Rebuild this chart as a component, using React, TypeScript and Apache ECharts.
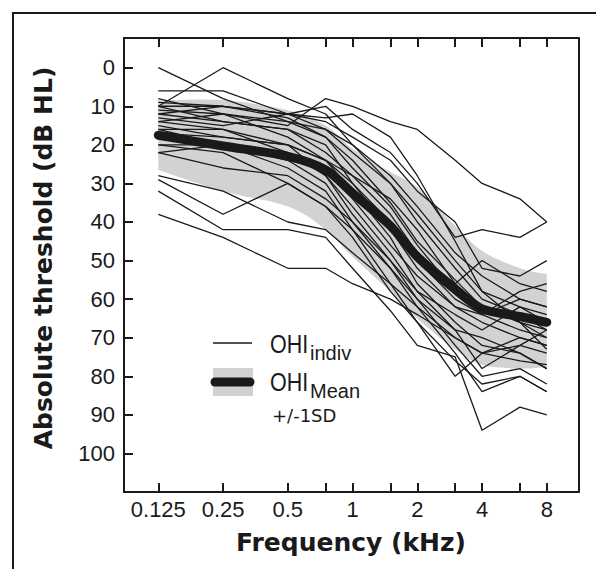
import React, { useEffect, useRef } from 'react';
import * as echarts from 'echarts';

// Frequencies (kHz) at which thresholds were measured
const FREQS = [0.125, 0.25, 0.5, 0.75, 1, 1.5, 2, 3, 4, 6, 8];
const TICK_FREQS = [0.125, 0.25, 0.5, 0.75, 1, 1.5, 2, 3, 4, 6, 8];
const LABEL_FREQS = [0.125, 0.25, 0.5, 1, 2, 4, 8];
const LABEL_TEXT = ['0.125', '0.25', '0.5', '1', '2', '4', '8'];
const Y_TICKS = [0, 10, 20, 30, 40, 50, 60, 70, 80, 90, 100];

// Group mean and +/- 1 SD band (dB HL)
const MEAN = [17.5, 20.3, 23, 26.5, 32.5, 41, 49, 57.5, 62.5, 64.5, 66];
const SD_UPPER = [8.5, 8.4, 11, 15, 21, 27, 31, 41, 47.5, 52, 53.5];
const SD_LOWER = [26.5, 32, 36, 42, 49, 58, 65, 73, 77, 78, 77.5];

// Individual audiograms (dB HL)
const S01 = [0, 8, 14, 18, 24, 35, 45, 55, 62, 66, 70];
const S02 = [10, 0, 8, 12, 20, 30, 40, 52, 60, 64, 68];
const S03 = [6, 6, 12, 13, 12, 18, 28, 45, 58, 66, 73];
const S04 = [8, 12, 15, 8, 10, 14, 16, 24, 30, 34, 40];
const S05 = [10, 10, 12, 16, 22, 30, 38, 50, 58, 62, 64];
const S06 = [12, 14, 16, 22, 28, 38, 48, 56, 50, 56, 58];
const S07 = [13, 15, 12, 10, 16, 22, 30, 44, 42, 44, 40];
const S08 = [14, 12, 18, 24, 30, 42, 52, 62, 66, 70, 72];
const S09 = [15, 18, 20, 24, 32, 44, 56, 66, 72, 74, 78];
const S10 = [16, 16, 22, 28, 36, 48, 58, 64, 68, 62, 66];
const S11 = [20, 20, 24, 30, 40, 52, 60, 68, 78, 72, 74];
const S12 = [22, 20, 22, 26, 34, 46, 54, 62, 64, 60, 62];
const S13 = [28, 32, 40, 42, 48, 56, 62, 70, 74, 70, 72];
const S14 = [29, 38, 30, 36, 44, 58, 66, 76, 82, 80, 84];
const S15 = [32, 42, 42, 44, 52, 63, 72, 75, 94, 88, 90];
const S16 = [38, 44, 52, 52, 56, 60, 64, 70, 74, 76, 77];
const S17 = [11, 12, 14, 16, 20, 28, 36, 48, 54, 60, 62];
const S18 = [12, 10, 13, 18, 26, 36, 46, 58, 64, 68, 70];
const S19 = [17, 18, 20, 28, 38, 50, 60, 72, 80, 78, 82];
const S20 = [20, 22, 30, 36, 42, 52, 62, 74, 84, 80, 84];
const S21 = [14, 16, 20, 24, 28, 34, 42, 56, 62, 66, 68];
const S22 = [10, 14, 16, 20, 30, 40, 50, 60, 64, 58, 56];
const S23 = [22, 26, 28, 34, 40, 50, 58, 68, 70, 74, 78];
const S24 = [9, 10, 12, 14, 18, 24, 32, 40, 52, 54, 50];
const S25 = [16, 20, 26, 32, 42, 56, 66, 80, 74, 72, 68];

const SUBJECTS = [S01, S02, S03, S04, S05, S06, S07, S08, S09, S10, S11, S12, S13,
  S14, S15, S16, S17, S18, S19, S20, S21, S22, S23, S24, S25];

const INK = '#1a1a1a';
const BAND = '#d2d2d3';

// Catmull-Rom through pixel points -> cubic bezier path commands (no leading M)
function curveCmds(p: number[][]): string {
  let d = '';
  for (let i = 0; i < p.length - 1; i++) {
    const p0 = p[Math.max(i - 1, 0)];
    const p1 = p[i];
    const p2 = p[i + 1];
    const p3 = p[Math.min(i + 2, p.length - 1)];
    const c1x = p1[0] + (p2[0] - p0[0]) / 6;
    const c1y = p1[1] + (p2[1] - p0[1]) / 6;
    const c2x = p2[0] - (p3[0] - p1[0]) / 6;
    const c2y = p2[1] - (p3[1] - p1[1]) / 6;
    d += ` C ${c1x} ${c1y} ${c2x} ${c2y} ${p2[0]} ${p2[1]}`;
  }
  return d;
}

export default function App() {
  const ref = useRef<HTMLDivElement>(null);
  useEffect(() => {
    const chart = echarts.init(ref.current!, null, { renderer: 'svg' });
    const lx = (f: number) => Math.log2(f);
    const pts = (arr: number[]) => FREQS.map((f, i) => [lx(f), arr[i]]);
    const labelFor = (v: number) => {
      const i = LABEL_FREQS.findIndex((f) => Math.abs(lx(f) - v) < 1e-6);
      return i >= 0 ? LABEL_TEXT[i] : '';
    };
    const xMin = -3.53;
    const xMax = 3.49;
    const yMin = -7.7;
    const yMax = 110;

    const axisLine = { show: true, onZero: false, lineStyle: { color: INK, width: 2 } };
    const tickStyle = { color: INK, width: 2 };

    const indivSeries = SUBJECTS.map((s) => ({
      type: 'line',
      data: pts(s),
      symbol: 'none',
      silent: true,
      lineStyle: { width: 1.3, color: INK },
      z: 3,
    }));

    const bandData = FREQS.map((f, i) => [lx(f), SD_UPPER[i], SD_LOWER[i]]);

    const option: any = {
      animation: false,
      backgroundColor: '#fff',
      grid: { left: 124, top: 38, right: 17.5, bottom: 77, containLabel: false },
      xAxis: [
        {
          type: 'value',
          position: 'bottom',
          min: xMin,
          max: xMax,
          axisLine,
          splitLine: { show: false },
          axisTick: { show: true, inside: true, length: 9, lineStyle: tickStyle, customValues: TICK_FREQS.map(lx) },
          axisLabel: {
            show: true,
            customValues: LABEL_FREQS.map(lx),
            formatter: (v: number) => labelFor(v),
            fontFamily: 'Liberation Sans, Arial, sans-serif',
            fontSize: 22,
            color: INK,
            margin: 6,
          },
        },
        {
          type: 'value',
          position: 'top',
          min: xMin,
          max: xMax,
          axisLine,
          splitLine: { show: false },
          axisTick: { show: true, inside: true, length: 9, lineStyle: tickStyle, customValues: TICK_FREQS.map(lx) },
          axisLabel: { show: false },
        },
      ],
      yAxis: [
        {
          type: 'value',
          position: 'left',
          inverse: true,
          min: yMin,
          max: yMax,
          axisLine,
          splitLine: { show: false },
          axisTick: { show: true, inside: true, length: 9, lineStyle: tickStyle, customValues: Y_TICKS },
          axisLabel: {
            show: true,
            customValues: Y_TICKS,
            fontFamily: 'Liberation Sans, Arial, sans-serif',
            fontSize: 22,
            color: INK,
            margin: 9,
          },
        },
        {
          type: 'value',
          position: 'right',
          inverse: true,
          min: yMin,
          max: yMax,
          axisLine,
          splitLine: { show: false },
          axisTick: { show: false },
          axisLabel: { show: false },
        },
      ],
      series: [
        {
          type: 'custom',
          silent: true,
          z: 1,
          data: [0],
          encode: { x: [], y: [] },
          renderItem: (params: any, api: any) => {
            const up = bandData.map((d) => api.coord([d[0], d[1]]));
            const lo = bandData.map((d) => api.coord([d[0], d[2]])).reverse();
            let d = `M ${up[0][0]} ${up[0][1]}` + curveCmds(up);
            d += ` L ${lo[0][0]} ${lo[0][1]}` + curveCmds(lo) + ' Z';
            return {
              type: 'path',
              shape: { pathData: d },
              style: { fill: BAND, stroke: 'none' },
            };
          },
        },
        ...indivSeries,
        {
          type: 'line',
          data: pts(MEAN),
          symbol: 'none',
          smooth: 0.3,
          silent: true,
          lineStyle: { width: 9, color: INK, cap: 'round', join: 'round' },
          z: 5,
        },
      ],
      graphic: [
        { type: 'line', shape: { x1: 12, y1: 13, x2: 596, y2: 13 }, style: { stroke: INK, lineWidth: 2 } },
        { type: 'line', shape: { x1: 13, y1: 12, x2: 13, y2: 569 }, style: { stroke: INK, lineWidth: 2 } },
        {
          type: 'text',
          x: 43,
          y: 258,
          rotation: Math.PI / 2,
          style: {
            text: 'Absolute threshold (dB HL)',
            fontFamily: 'DejaVu Sans, sans-serif',
            fontWeight: 'bold',
            fontSize: 25,
            fill: INK,
            align: 'center',
            verticalAlign: 'middle',
          },
        },
        {
          type: 'text',
          x: 351,
          y: 542,
          style: {
            text: 'Frequency (kHz)',
            fontFamily: 'DejaVu Sans, sans-serif',
            fontWeight: 'bold',
            fontSize: 25,
            fill: INK,
            align: 'center',
            verticalAlign: 'middle',
          },
        },
        // legend
        { type: 'line', shape: { x1: 213, y1: 343, x2: 252, y2: 343 }, style: { stroke: INK, lineWidth: 1.3 } },
        { type: 'rect', shape: { x: 213, y: 368, width: 40, height: 28 }, style: { fill: BAND } },
        { type: 'line', shape: { x1: 215, y1: 382, x2: 250, y2: 382 }, style: { stroke: INK, lineWidth: 9, lineCap: 'round' } },
        {
          type: 'text', x: 270, y: 344.5, scaleX: 0.86,
          style: { text: 'OHI', fontFamily: 'Liberation Sans, Arial, sans-serif', fontSize: 25, fill: INK, align: 'left', verticalAlign: 'middle' },
        },
        {
          type: 'text', x: 310, y: 352.5,
          style: { text: 'indiv', fontFamily: 'Liberation Sans, Arial, sans-serif', fontSize: 20, fill: INK, align: 'left', verticalAlign: 'middle' },
        },
        {
          type: 'text', x: 270, y: 382, scaleX: 0.86,
          style: { text: 'OHI', fontFamily: 'Liberation Sans, Arial, sans-serif', fontSize: 25, fill: INK, align: 'left', verticalAlign: 'middle' },
        },
        {
          type: 'text', x: 310, y: 390.5,
          style: { text: 'Mean', fontFamily: 'Liberation Sans, Arial, sans-serif', fontSize: 20, fill: INK, align: 'left', verticalAlign: 'middle' },
        },
        {
          type: 'text', x: 272, y: 415,
          style: { text: '+/-1SD', fontFamily: 'DejaVu Sans, sans-serif', fontSize: 18, fill: INK, align: 'left', verticalAlign: 'middle' },
        },
      ],
    };
    chart.setOption(option);
    return () => chart.dispose();
  }, []);
  return (
    <div
      ref={ref}
      style={{ position: 'fixed', left: 0, top: 0, width: 596, height: 569, background: '#fff' }}
    />
  );
}
